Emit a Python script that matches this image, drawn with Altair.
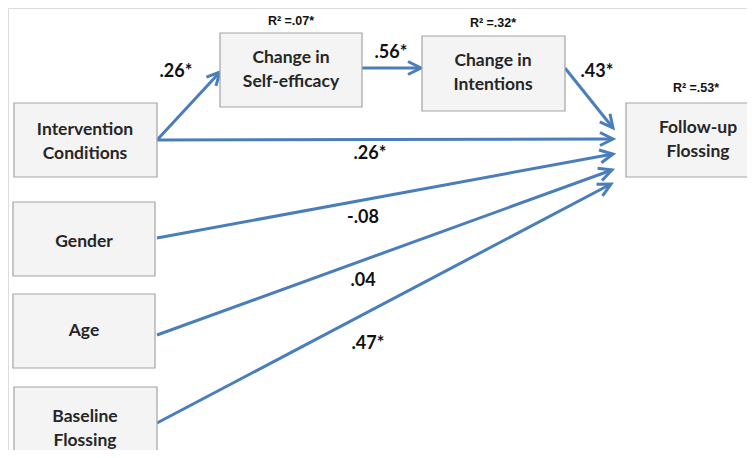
import altair as alt
import pandas as pd
import numpy as np

# Nodes (boxes) in pixel space of the 755x458 figure
node_names = ["Intervention\nConditions", "Change in\nSelf-efficacy", "Change in\nIntentions",
              "Follow-up\nFlossing", "Gender", "Age", "Baseline\nFlossing"]
node_x1 = [14, 220, 422, 626, 13, 13, 14]
node_x2 = [157, 362, 565, 770, 155, 155, 157]
node_y1 = [103, 33, 36, 103, 202, 294, 387]
node_y2 = [177, 107, 111, 177, 276, 368, 470]
node_text_x = [85, 291, 493, 698, 84, 84, 85]
node_text_y = [130, 58, 61, 128, 242, 331, 417]  # centre of first text line

# Paths (edges)
edge_x1 = [157, 362, 565, 157, 157, 157, 157]
edge_y1 = [140, 68, 68, 140, 238, 335, 423]
edge_x2 = [220, 421, 613, 613, 613, 612, 611]
edge_y2 = [72, 68, 128, 139, 154, 170, 184]

# Path coefficients
coef_text = [".26*", ".56*", ".43*", ".26*", "-.08", ".04", ".47*"]
coef_x = [176, 391, 597, 370, 363, 363, 368]
coef_y = [72, 53, 72, 154, 218, 281, 344]

# R-squared labels
r2_text = ["R\u00b2 =.07*", "R\u00b2 =.32*", "R\u00b2 =.53*"]
r2_x = [291, 493, 696]
r2_y = [21, 23, 88]

nodes = pd.DataFrame({"name": node_names, "x1": node_x1, "x2": node_x2,
                      "y1": node_y1, "y2": node_y2, "tx": node_text_x, "ty": node_text_y})
edges = pd.DataFrame({"x1": edge_x1, "y1": edge_y1, "x2": edge_x2, "y2": edge_y2})
edges["angle"] = (np.degrees(np.arctan2(edges["y2"] - edges["y1"], edges["x2"] - edges["x1"])) + 360) % 360
coefs = pd.DataFrame({"t": coef_text, "x": coef_x, "y": coef_y})
r2 = pd.DataFrame({"t": r2_text, "x": r2_x, "y": r2_y})

W, H = 739, 442
xs = alt.Scale(domain=[8, 8 + W], nice=False, zero=False)
ys = alt.Scale(domain=[8, 8 + H], nice=False, zero=False, reverse=True)
X = lambda f: alt.X(f, type="quantitative", scale=xs, axis=None)
Y = lambda f: alt.Y(f, type="quantitative", scale=ys, axis=None)

FONT = "Lato"
BLUE = "#4a7ebb"

boxes = alt.Chart(nodes).mark_rect(fill="#f4f4f4", stroke="#a3a3a3", strokeWidth=1.2, clip=True).encode(
    x=X("x1"), x2="x2", y=Y("y1"), y2="y2")
box_text = alt.Chart(nodes).mark_text(font=FONT, fontWeight="bold", fontSize=17.5, color="#262626",
                                      lineBreak="\n", lineHeight=23.5, baseline="middle", align="center").encode(
    x=X("tx"), y=Y("ty"), text="name")
lines = alt.Chart(edges).mark_rule(color=BLUE, strokeWidth=3).encode(
    x=X("x1"), x2="x2", y=Y("y1"), y2="y2")
heads = alt.Chart(edges).mark_point(shape="M-1,-0.5L0,0L-1,0.5", filled=False, size=676,
                                    stroke=BLUE, strokeWidth=3, opacity=1).encode(
    x=X("x2"), y=Y("y2"), angle=alt.Angle("angle:Q", scale=None))
coef_marks = alt.Chart(coefs).mark_text(font=FONT, fontWeight="bold", fontSize=18, color="#111111",
                                        baseline="middle", align="center").encode(
    x=X("x"), y=Y("y"), text="t")
r2_marks = alt.Chart(r2).mark_text(font="Liberation Sans", fontWeight="bold", fontSize=12.5, color="#111111",
                                   baseline="middle", align="center").encode(
    x=X("x"), y=Y("y"), text="t")

chart = alt.layer(lines, heads, boxes, box_text, coef_marks, r2_marks).properties(
    width=W, height=H, padding=0, autosize="none"
).configure_view(stroke=None).configure(background="white")

chart.save("out.html", embed_options={"renderer": "svg", "actions": False})
